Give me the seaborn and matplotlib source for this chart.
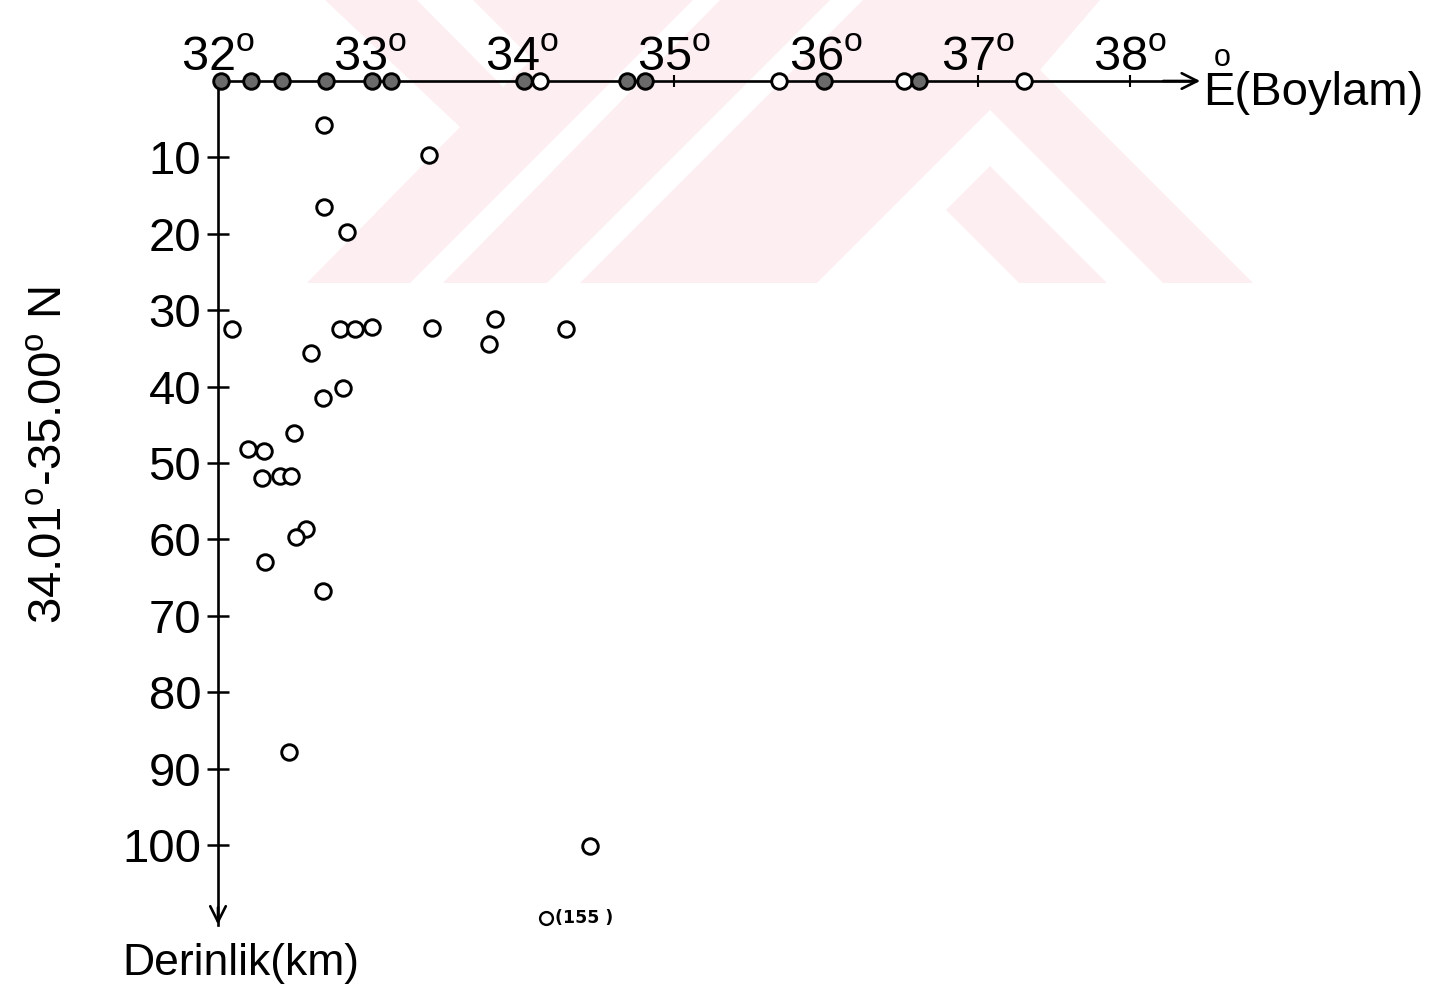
# derinlik - boylam kesiti (34.01-35.00 N)

import numpy as np
import pandas as pd
import seaborn as sns
import matplotlib.pyplot as plt
from matplotlib.patches import Polygon
from matplotlib.transforms import Affine2D

# yüzeydeki (0 km) depremler, koyu / açık işaretli
surface_dark_lon = [32.02, 32.22, 32.42, 32.71, 33.01, 33.14, 34.01, 34.69, 34.81, 35.99, 36.61]
surface_open_lon = [34.12, 35.69, 36.51, 37.30]

# derin depremler
event_lon = [32.70, 33.39, 32.70, 32.85, 32.09, 32.80, 32.90, 33.01, 33.41, 33.82,
             33.78, 34.29, 32.61, 32.82, 32.69, 32.50, 32.20, 32.30, 32.29, 32.41,
             32.48, 32.58, 32.51, 32.31, 32.69, 32.47, 34.45]
event_depth = [5.8, 9.7, 16.5, 19.7, 32.4, 32.5, 32.4, 32.2, 32.3, 31.1,
               34.4, 32.5, 35.6, 40.2, 41.5, 46.1, 48.2, 48.4, 51.9, 51.7,
               51.7, 58.7, 59.7, 62.9, 66.7, 87.8, 100.1]

# ölçek dışı deprem
deep_lon = [34.16]
deep_depth = [155]

lon_ticks = [32, 33, 34, 35, 36, 37, 38]
depth_ticks = [10, 20, 30, 40, 50, 60, 70, 80, 90, 100]

W, H = 1444, 993
axis_end_depth = 110.8   # y ekseninin bittiği derinlik

sns.set_style('white')
plt.rcParams['font.family'] = ['Liberation Sans', 'DejaVu Sans']
plt.rcParams['mathtext.fontset'] = 'custom'
plt.rcParams['mathtext.rm'] = 'Liberation Sans'
plt.rcParams['text.color'] = 'black'
plt.rcParams['xtick.color'] = 'black'
plt.rcParams['ytick.color'] = 'black'

fig = plt.figure(figsize=(W / 100, H / 100), dpi=100)
ax = fig.add_axes([0, 0, 1, 1])

# piksel -> veri ölçeği
x0, ppd = 218, 152.0
y0, ppk = 81, 7.64
ax.set_xlim(32 - x0 / ppd, 32 + (W - x0) / ppd)
ax.set_ylim((H - y0) / ppk, -y0 / ppk)

# arka plandaki soluk filigran
px = Affine2D().scale(1 / W, -1 / H).translate(0, 1) + fig.transFigure
pink = '#fdeef1'
wm = [
    ([(325, 0), (693, 0), (410, 283), (307, 283), (460, 127)], pink),
    ([(720, 0), (830, 0), (547, 283), (443, 283)], pink),
    ([(863, 0), (1100, 0), (1040, 70), (1253, 283), (580, 283)], pink),
    ([(417, 0), (473, 0), (532, 59), (503, 87)], 'white'),
    ([(817, 283), (990, 110), (1163, 283)], 'white'),
    ([(873, 283), (990, 166), (1107, 283)], pink),
    ([(827, 283), (923, 187), (1019, 283)], 'white'),
]
for i, (pts, c) in enumerate(wm):
    ax.add_patch(Polygon(pts, closed=True, facecolor=c, edgecolor='none',
                         transform=px, zorder=0.1 + i * 0.01))

# eksenler
for s in ['right', 'bottom']:
    ax.spines[s].set_visible(False)
ax.spines['top'].set_position(('data', 0))
ax.spines['left'].set_position(('data', 32))
ax.spines['top'].set_bounds(32, 38.4)
ax.spines['left'].set_bounds(0, axis_end_depth - 0.3)
for s in ['top', 'left']:
    ax.spines[s].set_linewidth(1.9)
    ax.spines[s].set_color('black')

ax.xaxis.tick_top()
ax.set_xticks(lon_ticks)
ax.set_xticklabels([f'{v}' + r'$^{\mathrm{o}}$' for v in lon_ticks])
ax.set_yticks(depth_ticks)
ax.set_yticklabels([str(v) for v in depth_ticks])
ax.tick_params(axis='x', direction='inout', length=8, width=1.5, pad=-4,
               labelsize=35, top=True, bottom=False)
ax.tick_params(axis='y', direction='inout', length=16, width=1.8, pad=4,
               labelsize=34, left=True)

arrow = dict(arrowstyle='->', lw=1.9, color='black', mutation_scale=28)
ax.annotate('', xy=(38.48, 0), xytext=(38.2, 0), arrowprops=arrow)
ax.annotate('', xy=(32, axis_end_depth), xytext=(32, axis_end_depth - 3), arrowprops=arrow)

# noktalar
df_ev = pd.DataFrame({'lon': event_lon, 'depth': event_depth})
df_sd = pd.DataFrame({'lon': surface_dark_lon, 'depth': 0.0})
df_so = pd.DataFrame({'lon': surface_open_lon, 'depth': 0.0})

mk = dict(marker='o', s=125, linewidth=2.1, edgecolor='black', zorder=5, legend=False)
sns.scatterplot(data=df_ev, x='lon', y='depth', ax=ax, color='white', **mk)
sns.scatterplot(data=df_so, x='lon', y='depth', ax=ax, color='white', **mk)
sns.scatterplot(data=df_sd, x='lon', y='depth', ax=ax, color='#6a6a6a', **mk)

# ölçek dışı olan: eksen sonunda gösterilir
deep_plot = [min(d, axis_end_depth - 1.2) for d in deep_depth]
sns.scatterplot(x=deep_lon, y=deep_plot, ax=ax, color='white', marker='o', s=85,
                linewidth=1.7, edgecolor='black', zorder=5, legend=False)
for lo, yp, d in zip(deep_lon, deep_plot, deep_depth):
    ax.text(lo + 0.06, yp, f'({d} )', va='center', ha='left', fontsize=12.5,
            fontweight='bold', family=['DejaVu Sans'])

ax.set_xlabel('')
ax.set_ylabel('')

# eksen yazıları
fig.text(1203 / W, 1 - 93 / H, 'E(Boylam)', fontsize=34, ha='left', va='center')
fig.text(1222 / W, 1 - 58 / H, 'o', fontsize=22, ha='center', va='center')
fig.text(122 / W, 1 - 963 / H, 'Derinlik(km)', fontsize=32, ha='left', va='center')
fig.text(50 / W, 1 - 455 / H, r'34.01$^{\mathrm{o}}$-35.00$^{\mathrm{o}}$ N',
         fontsize=34, rotation=90, ha='center', va='center')

plt.savefig('out.png', dpi=100)
